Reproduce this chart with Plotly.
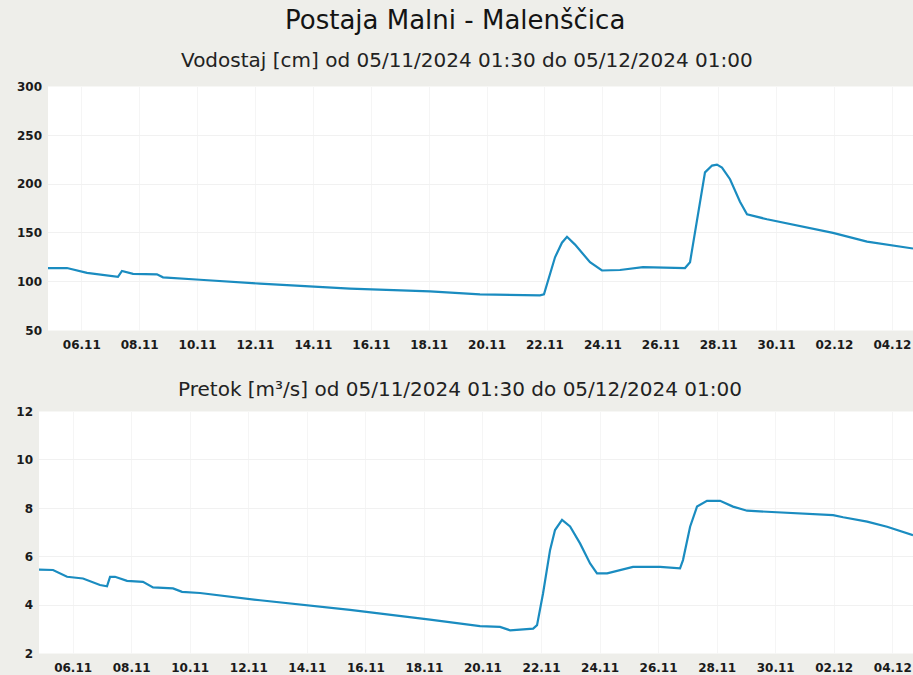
import plotly.graph_objects as go

# ---- Data ----
level_time = [
    "2024-11-05 01:30", "2024-11-05 17:15", "2024-11-06 09:50", "2024-11-07 04:55",
    "2024-11-07 11:30", "2024-11-07 14:50", "2024-11-08 00:00", "2024-11-08 19:50",
    "2024-11-09 00:50", "2024-11-10 07:30", "2024-11-12 09:15", "2024-11-15 11:50",
    "2024-11-18 06:10", "2024-11-19 23:35", "2024-11-22 01:20", "2024-11-22 04:40",
    "2024-11-22 13:50", "2024-11-22 19:35", "2024-11-22 23:45", "2024-11-23 06:25",
    "2024-11-23 18:50", "2024-11-24 04:45", "2024-11-24 19:40", "2024-11-25 14:45",
    "2024-11-26 13:05", "2024-11-27 01:35", "2024-11-27 05:45", "2024-11-27 09:50",
    "2024-11-27 14:00", "2024-11-27 18:10", "2024-11-28 00:00", "2024-11-28 04:05",
    "2024-11-28 08:15", "2024-11-28 14:55", "2024-11-28 23:10", "2024-11-29 05:00",
    "2024-11-29 21:35", "2024-12-01 00:55", "2024-12-02 04:15", "2024-12-03 08:30",
    "2024-12-04 22:35",
]
level_cm = [
    114, 114, 109, 105.5,
    105, 111, 108, 107.5,
    104.5, 102, 98, 93,
    90, 87, 86, 87,
    125, 140, 146, 138,
    120, 111.5, 112, 115,
    114, 114, 120, 150,
    184, 212, 219, 220,
    217, 205, 182, 169,
    164, 157, 150, 141,
    134,
]

flow_time = [
    "2024-11-05 01:30", "2024-11-05 13:00", "2024-11-06 00:30", "2024-11-06 13:35",
    "2024-11-07 03:30", "2024-11-07 09:15", "2024-11-07 11:45", "2024-11-07 15:50",
    "2024-11-08 01:40", "2024-11-08 14:45", "2024-11-08 23:00", "2024-11-09 15:25",
    "2024-11-09 22:45", "2024-11-10 13:30", "2024-11-12 14:45", "2024-11-15 16:30",
    "2024-11-18 10:05", "2024-11-20 03:05", "2024-11-20 19:30", "2024-11-21 03:45",
    "2024-11-21 22:40", "2024-11-22 01:50", "2024-11-22 06:45", "2024-11-22 12:30",
    "2024-11-22 16:35", "2024-11-22 22:20", "2024-11-23 04:55", "2024-11-23 13:05",
    "2024-11-23 21:20", "2024-11-24 03:00", "2024-11-24 11:20", "2024-11-25 08:30",
    "2024-11-26 06:45", "2024-11-26 23:05", "2024-11-27 01:30", "2024-11-27 07:20",
    "2024-11-27 13:00", "2024-11-27 21:10", "2024-11-28 07:55", "2024-11-28 18:30",
    "2024-11-29 06:00", "2024-11-30 11:30", "2024-12-02 04:35", "2024-12-02 12:50",
    "2024-12-03 08:30", "2024-12-04 00:50", "2024-12-04 22:05",
]
flow_m3s = [
    5.47, 5.45, 5.17, 5.10,
    4.83, 4.78, 5.17, 5.17,
    5.00, 4.96, 4.73, 4.69,
    4.55, 4.50, 4.20, 3.80,
    3.40, 3.13, 3.10, 2.96,
    3.03, 3.17, 4.48, 6.27,
    7.10, 7.52, 7.25, 6.55,
    5.72, 5.31, 5.31, 5.58,
    5.58, 5.52, 5.86, 7.24,
    8.07, 8.31, 8.31, 8.07,
    7.90, 7.83, 7.72, 7.63,
    7.45, 7.24, 6.89,
]

title_main = "Postaja Malni - Malenščica"
title_level = "Vodostaj [cm] od 05/11/2024 01:30 do 05/12/2024 01:00"
title_flow = "Pretok [m³/s] od 05/11/2024 01:30 do 05/12/2024 01:00"

LINE = "#1a8cc0"
W, H = 913, 675

fig = go.Figure()
fig.add_trace(go.Scatter(x=level_time, y=level_cm, mode="lines",
                         line=dict(color=LINE, width=2.2), xaxis="x", yaxis="y",
                         showlegend=False))
fig.add_trace(go.Scatter(x=flow_time, y=flow_m3s, mode="lines",
                         line=dict(color=LINE, width=2.2), xaxis="x2", yaxis="y2",
                         showlegend=False))

tickfont = dict(family="DejaVu Sans", size=12, color="#1a1a1a", weight="bold")
xcommon = dict(type="date", tick0="2024-11-06 05:30", dtick=2 * 86400000,
               tickformat="%d.%m", tickfont=tickfont, showgrid=True,
               gridcolor="#f5f5f5", zeroline=False, showline=False, ticks="",
               ticklabelstandoff=5, ticklabeloverflow="allow")
ycommon = dict(tickfont=tickfont, showgrid=True, gridcolor="#f1f1f1",
               zeroline=False, showline=False, ticks="", ticklabelstandoff=5)

fig.update_layout(
    width=W, height=H,
    margin=dict(l=0, r=0, t=0, b=0, autoexpand=False),
    paper_bgcolor="#eeeeea",
    plot_bgcolor="#ffffff",
    xaxis=dict(domain=[48 / W, 1], range=["2024-11-05 01:30", "2024-12-04 22:36"],
               anchor="y", **xcommon),
    yaxis=dict(domain=[(H - 330.5) / H, (H - 86.5) / H], range=[50, 300],
               tickvals=[50, 100, 150, 200, 250, 300], anchor="x", **ycommon),
    xaxis2=dict(domain=[39 / W, 1], range=["2024-11-05 01:30", "2024-12-04 22:05"],
                anchor="y2", **xcommon),
    yaxis2=dict(domain=[(H - 653.5) / H, (H - 411.5) / H], range=[2, 12],
                tickvals=[2, 4, 6, 8, 10, 12], anchor="x2", **ycommon),
    annotations=[
        dict(text=title_main, x=455 / W, y=(H - 20) / H, xref="paper", yref="paper",
             showarrow=False, xanchor="center", yanchor="middle",
             font=dict(family="DejaVu Sans", size=26, color="#141414")),
        dict(text=title_level, x=467 / W, y=(H - 60) / H, xref="paper", yref="paper",
             showarrow=False, xanchor="center", yanchor="middle",
             font=dict(family="DejaVu Sans", size=20, color="#222222")),
        dict(text=title_flow, x=460 / W, y=(H - 389) / H, xref="paper", yref="paper",
             showarrow=False, xanchor="center", yanchor="middle",
             font=dict(family="DejaVu Sans", size=20, color="#222222")),
    ],
)

fig.write_html("out.html",
               config={"displayModeBar": False},
               post_script="document.body.style.margin='0';"
                           "document.body.style.overflow='hidden';")
